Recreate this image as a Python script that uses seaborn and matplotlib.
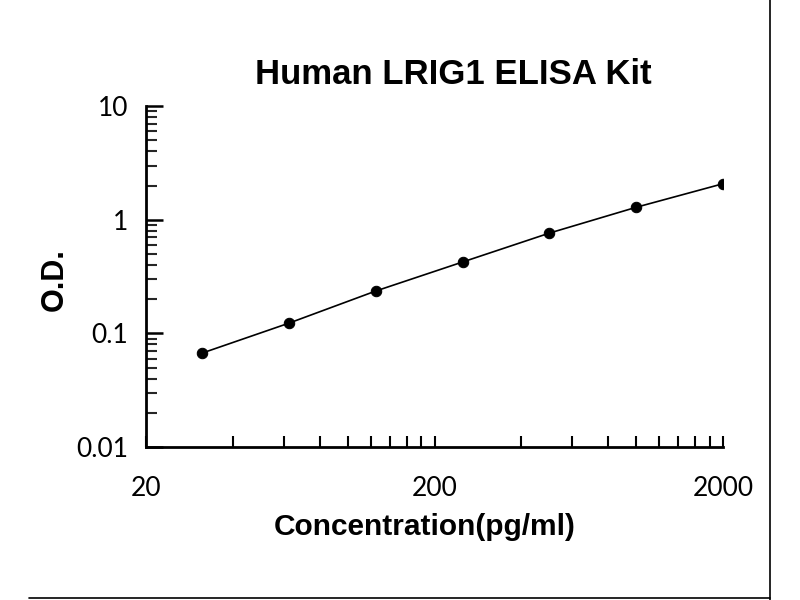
import matplotlib
matplotlib.use("Agg")
import matplotlib.pyplot as plt
from matplotlib.lines import Line2D
from matplotlib.ticker import FixedLocator, NullFormatter
import seaborn as sns
import pandas as pd

# standard curve
concentration = [31.25, 62.5, 125, 250, 500, 1000, 2000]
od = [0.067, 0.123, 0.236, 0.425, 0.764, 1.29, 2.08]

x_major = [20, 200, 2000]
x_minor = [40, 60, 80, 100, 120, 140, 160, 180,
           400, 600, 800, 1000, 1200, 1400, 1600, 1800]
y_major = [0.01, 0.1, 1, 10]
y_labels = ["0.01", "0.1", "1", "10"]

df = pd.DataFrame({"conc": concentration, "od": od})

sns.set_style("white")
plt.rcParams['font.family'] = ['Liberation Sans', 'DejaVu Sans']
plt.rcParams['text.color'] = 'black'
plt.rcParams['axes.labelcolor'] = 'black'

fig = plt.figure(figsize=(8, 6), dpi=100)
ax = fig.add_axes([0.1825, 0.255, 0.7215, 0.568])

sns.lineplot(data=df, x="conc", y="od", ax=ax, color="black", linewidth=1.2,
             marker="o", markersize=7.5, markeredgecolor="black")

ax.set_xscale("log")
ax.set_yscale("log")
ax.set_xlim(20, 2000)
ax.set_ylim(0.01, 10)

ax.xaxis.set_major_locator(FixedLocator(x_major))
ax.xaxis.set_minor_locator(FixedLocator(x_minor))
ax.set_xticklabels([str(v) for v in x_major])
ax.xaxis.set_minor_formatter(NullFormatter())
ax.yaxis.set_major_locator(FixedLocator(y_major))
ax.set_yticklabels(y_labels)
ax.yaxis.set_minor_formatter(NullFormatter())

ax.tick_params(axis="x", which="both", direction="in", length=8, width=1.5,
               pad=21, labelsize=19, colors="black", bottom=True)
ax.tick_params(axis="y", which="major", direction="in", length=12, width=1.8,
               pad=13, labelsize=19, colors="black", left=True)
ax.tick_params(axis="y", which="minor", direction="in", length=8, width=1.5,
               left=True)
for lbl in ax.get_xticklabels() + ax.get_yticklabels():
    lbl.set_family(["Lato", "DejaVu Sans"])

for side in ["top", "right"]:
    ax.spines[side].set_visible(False)
for side in ["left", "bottom"]:
    ax.spines[side].set_color("black")
    ax.spines[side].set_linewidth(2)

ax.set_title("Human LRIG1 ELISA Kit", fontsize=25, fontweight="bold", x=0.532, pad=16)
ax.set_xlabel("Concentration(pg/ml)", fontsize=21.5, fontweight="bold")
ax.set_ylabel("O.D.", fontsize=22, fontweight="bold")
ax.xaxis.set_label_coords(0.482, -0.195)
ax.yaxis.set_label_coords(-0.132, 0.49)

# frame lines of the original image
fig.add_artist(Line2D([0.9625, 0.9625], [0.0, 1.0], color="black", linewidth=1.2))
fig.add_artist(Line2D([0.036, 0.9625], [0.004, 0.004], color="black", linewidth=1.2))

fig.savefig("out.png", dpi=100)
